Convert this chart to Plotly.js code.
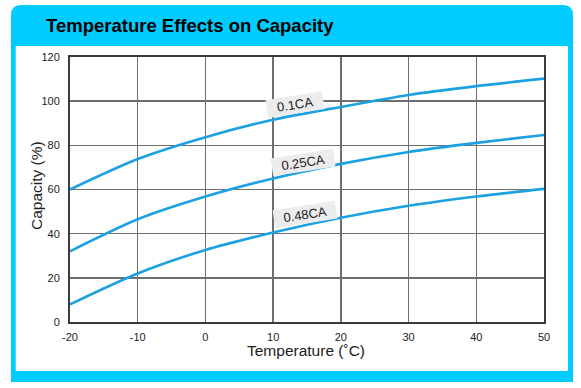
<!DOCTYPE html>
<html><head><meta charset="utf-8">
<script src="https://cdn.plot.ly/plotly-3.0.1.min.js"></script>
<style>html,body{margin:0;padding:0;background:#fff;}#chart{width:581px;height:388px;}</style>
</head><body><div id="chart"></div>
<script>
// ---- data ----
const temperatures = [-20, -10, 0, 10, 20, 30, 40, 50];
const cap01  = [60, 73.8, 83.7, 91.6, 97.4, 102.8, 106.8, 110.2];
const cap025 = [32, 46.5, 56.8, 65, 71.6, 77, 81.1, 84.7];
const cap048 = [8, 22, 32.6, 40.5, 47.2, 52.6, 56.8, 60.3];
const seriesNames = ['0.1CA', '0.25CA', '0.48CA'];
const xTickVals = [-20, -10, 0, 10, 20, 30, 40, 50];
const xTickLabels = ['-20', '-10', '0', '10', '20', '30', '40', '50'];
const yTickVals = [0, 20, 40, 60, 80, 100, 120];
const chartTitle = 'Temperature Effects on Capacity';
const xTitle = 'Temperature (˚C)';
const yTitle = 'Capacity (%)';

// ---- layout helpers ----
const M = {l: 70, r: 37, t: 57, b: 66};
const W = 581 - M.l - M.r, H = 388 - M.t - M.b;
const X = px => (px - M.l) / W;
const Y = py => (388 - M.b - py) / H;
const P = (px, py) => X(px).toFixed(5) + ',' + Y(py).toFixed(5);
const FONT = 'Liberation Sans, Arial, sans-serif';

const lineColor = '#1ba1e2';
const series = [cap01, cap025, cap048];
const traces = series.map((vals, i) => ({
  x: temperatures, y: vals, name: seriesNames[i], type: 'scatter', mode: 'lines',
  line: {color: lineColor, width: 2.6, shape: 'spline', smoothing: 0.8},
  hoverinfo: 'x+y+name'
}));

const framePath = 'M' + P(11, 382) + ' L' + P(11, 15) + ' Q' + P(11, 5) + ' ' + P(21, 5) +
  ' L' + P(563, 5) + ' Q' + P(573, 5) + ' ' + P(573, 15) + ' L' + P(573, 382) + ' Z';

const labelSpots = [[13.3, 98.7], [14.4, 72.3], [14.7, 48.9]];
const labelWidths = [54, 60, 60];

const annotations = [{
  text: chartTitle, xref: 'paper', yref: 'paper', x: X(44), y: Y(25),
  xanchor: 'left', yanchor: 'middle', showarrow: false,
  font: {family: FONT, size: 18.5, color: '#000', weight: 'bold'}
}, {
  text: xTitle, xref: 'paper', yref: 'paper', x: X(306), y: Y(350),
  xanchor: 'center', yanchor: 'middle', showarrow: false,
  font: {family: FONT, size: 15.5, color: '#222'}
}, {
  text: yTitle, xref: 'paper', yref: 'paper', x: X(36), y: Y(186), textangle: -90,
  xanchor: 'center', yanchor: 'middle', showarrow: false,
  font: {family: FONT, size: 15.5, color: '#222'}
}].concat(seriesNames.map((n, i) => ({
  text: n, x: labelSpots[i][0], y: labelSpots[i][1], xref: 'x', yref: 'y',
  showarrow: false, textangle: -9, bgcolor: '#ececec', borderpad: 1, width: labelWidths[i], height: 15,
  font: {family: FONT, size: 13, color: '#222'}
})));

const axisCommon = {
  showgrid: true, gridcolor: '#6e6e6e', gridwidth: 1.5,
  showline: true, linecolor: '#3a3a3a', linewidth: 2, mirror: true,
  zeroline: false, ticks: '', fixedrange: true,
  tickfont: {family: FONT, size: 11, color: '#222'}
};

const layout = {
  width: 581, height: 388, margin: M,
  paper_bgcolor: '#ffffff', plot_bgcolor: '#ffffff',
  showlegend: false,
  xaxis: Object.assign({}, axisCommon, {
    range: [-20, 50], tickvals: xTickVals, ticktext: xTickLabels, ticklabelstandoff: 4
  }),
  yaxis: Object.assign({}, axisCommon, {
    range: [0, 120], tickvals: yTickVals, ticklabelstandoff: 6
  }),
  shapes: [
    {type: 'path', xref: 'paper', yref: 'paper', path: framePath, fillcolor: '#00ccff', line: {width: 0}, layer: 'below'},
    {type: 'rect', xref: 'paper', yref: 'paper', x0: X(15.7), x1: X(568), y0: Y(371), y1: Y(46), fillcolor: '#ffffff', line: {width: 0}, layer: 'below'}
  ],
  annotations: annotations
};

Plotly.newPlot('chart', traces, layout, {displayModeBar: false, staticPlot: true});
</script></body></html>
